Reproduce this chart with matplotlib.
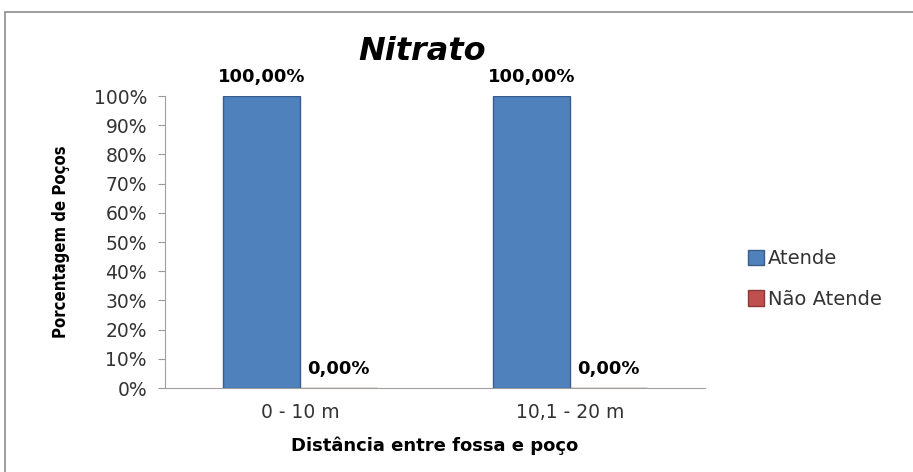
import matplotlib
matplotlib.use("Agg")
import matplotlib.pyplot as plt
from matplotlib.patches import Rectangle
import numpy as np

categories = ["0 - 10 m", "10,1 - 20 m"]
atende = [100.0, 100.0]
nao_atende = [0.0, 0.0]
series_names = ["Atende", "Não Atende"]

blue = "#4F81BD"
red = "#C0504D"
wide = "DejaVu Sans"

fig = plt.figure(figsize=(9.13, 4.72), dpi=100)
ax = fig.add_axes([165 / 913, 1 - 388 / 472, 540 / 913, 292 / 472])

# outer chart frame
fig.patches.append(Rectangle((5 / 913, -0.05), 1.0, 1 - 12 / 472 + 0.05,
                             transform=fig.transFigure, fill=False,
                             edgecolor="#8c8c8c", linewidth=1.2))

x = np.arange(len(categories))
w = 1 / 3.5
b1 = ax.bar(x - w / 2, atende, w, color=blue, edgecolor="#385D8A", linewidth=1.0, label=series_names[0])
b2 = ax.bar(x + w / 2, nao_atende, w, color=red, edgecolor="#8C3836", linewidth=1.0, label=series_names[1])

for bars, vals in ((b1, atende), (b2, nao_atende)):
    for rect, v in zip(bars, vals):
        ax.annotate(f"{v:.2f}%".replace(".", ","), (rect.get_x() + rect.get_width() / 2, v),
                    xytext=(0, 7), textcoords="offset points", ha="center", va="bottom",
                    fontsize=13, fontweight="bold", family=wide)

ax.set_xlim(-0.5, 1.5)
ax.set_ylim(0, 100)
ax.set_yticks(np.arange(0, 101, 10))
ax.set_yticklabels([f"{t}%" for t in range(0, 101, 10)], fontsize=13.5, color="#333333", family=wide)
ax.set_xticks(x)
ax.set_xticklabels(categories, fontsize=13.5, color="#333333", family=wide)
ax.tick_params(axis="x", length=0, pad=11)
ax.tick_params(axis="y", length=5, color="#999999", pad=8)

for s in ["top", "right"]:
    ax.spines[s].set_visible(False)
for s in ["left", "bottom"]:
    ax.spines[s].set_color("#a0a0a0")

ax.set_ylabel("Porcentagem de Poços", fontsize=12, fontweight="bold",
              family=wide, fontstretch="condensed", labelpad=17)
ax.set_xlabel("Distância entre fossa e poço", fontsize=13, fontweight="bold",
              family=wide, labelpad=10)

fig.text(422 / 913, 1 - 52 / 472, "Nitrato", fontsize=23, fontweight="bold",
         fontstyle="italic", ha="center", va="center")

leg = ax.legend(loc="center left", bbox_to_anchor=(730 / 913, 1 - 279 / 472),
                bbox_transform=fig.transFigure, frameon=False,
                handlelength=0.85, handleheight=0.85, handletextpad=0.2, labelspacing=1.1,
                prop={"family": wide, "size": 14})
for t in leg.get_texts():
    t.set_color("#333333")

fig.savefig("out.png", dpi=100)
